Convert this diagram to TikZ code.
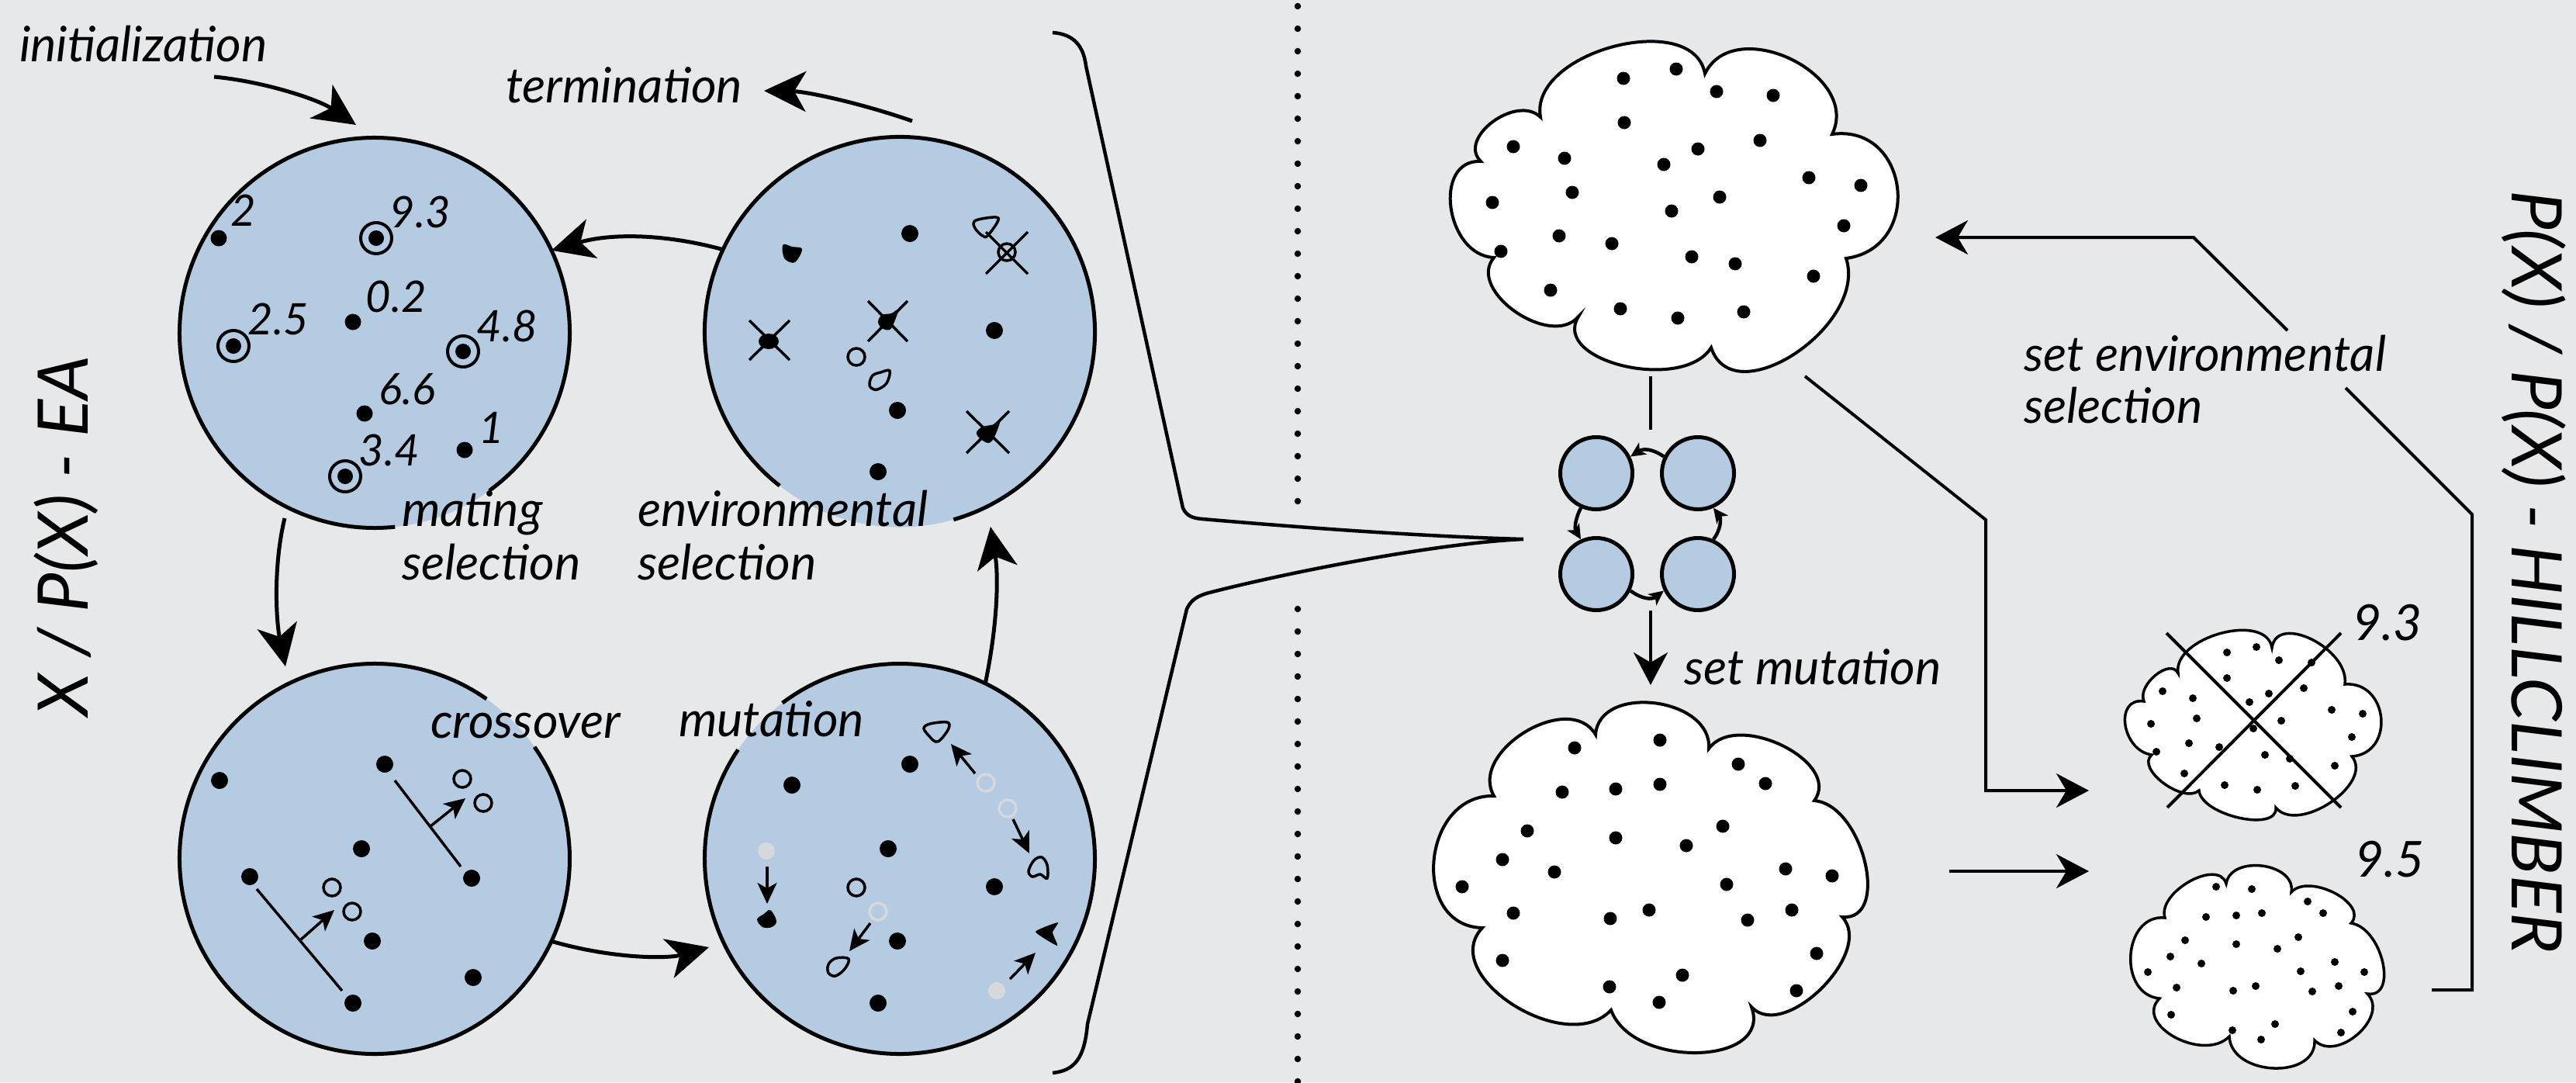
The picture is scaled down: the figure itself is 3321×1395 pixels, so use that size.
\documentclass[tikz,border=0pt]{standalone}
\usepackage{fontspec}
\setmainfont{Lato}
\usetikzlibrary{arrows.meta,calc}
\definecolor{bgc}{RGB}{231,232,234}
\definecolor{popc}{RGB}{180,203,226}
\definecolor{ghostc}{RGB}{214,216,219}
\newcommand\cb[3]{.. controls ($0.333*(#1)+1.333*(#2)-0.667*(#3)$) and ($0.333*(#3)+1.333*(#2)-0.667*(#1)$) .. (#3)}
\tikzset{
  pop/.style={circle, fill=popc, minimum size=503pt, inner sep=0pt, outer sep=0pt},
  ring/.style={line width=5pt},
  mini/.style={circle, fill=popc, draw=black, line width=5pt, minimum size=93pt, inner sep=0pt},
  bigarr/.style={line width=5pt, -{Stealth[length=54pt,width=52pt,inset=15pt]}},
  midarr/.style={line width=4pt, -{Stealth[length=42pt,width=44pt,inset=13pt]}},
  smallarr/.style={line width=3.5pt, -{Stealth[length=27pt,width=25pt,inset=7pt]}},
  miniarr/.style={line width=4.5pt, -{Stealth[length=19pt,width=18pt,inset=5pt]}},
  txt/.style={font=\fontsize{63}{69}\selectfont\itshape, inner sep=0pt, outer sep=0pt, anchor=base west},
  num/.style={font=\fontsize{56}{60}\selectfont\itshape, inner sep=0pt},
  cnum/.style={font=\fontsize{64}{68}\selectfont\itshape, inner sep=0pt},
  big/.style={font=\fontsize{90}{96}\selectfont\itshape, inner sep=0pt},
  thin/.style={line width=3.5pt},
  cloudbig/.style={fill=white, draw=black, line width=4pt},
  cloudsmall/.style={fill=white, draw=black, line width=3.5pt}
}
\begin{document}
\begin{tikzpicture}[x=1pt,y=-1pt]
\fill[bgc] (0,0) rectangle (3321,1395);
\useasboundingbox (0,0) rectangle (3321,1395);

% ---------- EA populations ----------
\node[pop] (tl) at (483,429) {};
\node[pop] (tr) at (1160,428) {};
\node[pop] (bl) at (483,1107) {};
\node[pop] (br) at (1160,1107) {};
\draw[ring] (tl.-54) arc[start angle=54,end angle=-276,radius=251.5];
\draw[ring] (tr.-74) arc[start angle=74,end angle=-232,radius=251.5];
\draw[ring] (bl.55) arc[start angle=-55,end angle=-395,radius=251.5];
\draw[ring] (br.146) arc[start angle=-146,end angle=-487,radius=251.5];

% TL contents
\foreach \p in {(282,307),(455,415),(470,533),(599,580)} \fill \p circle[radius=10.5];
\foreach \p in {(485,307),(301,446),(597,453),(445,614)} {\fill \p circle[radius=10]; \draw[line width=4pt] \p circle[radius=20];}
\node[num] (n2) at (314,271) {2};
\node[num] (n93) at (542,273) {9.3};
\node[num] (n02) at (511,382) {0.2};
\node[num] (n25) at (359,411) {2.5};
\node[num] (n48) at (654,420) {4.8};
\node[num] (n66) at (525,502) {6.6};
\node[num] (n34) at (502,580) {3.4};
\node[num] (n1) at (634,551) {1};

% TR contents
\foreach \p in {(1173,301),(1282,426),(1157,529),(1132,608)} \fill \p circle[radius=11];
\fill[shift={(1020,326)}] plot[smooth cycle, tension=0.6] coordinates {(-10,-11) (1,-8) (14,-5) (5,12) (-7,9) (-11,0)};
\draw[thin, shift={(1269,292)}] plot[smooth cycle, tension=0.6] coordinates {(-14,-4) (-8,-9) (15,-12) (17,-6) (4,12) (-2,12) (-10,5)};
\draw[thin] (1298,325) circle[radius=11];
\draw[thin] (1271,299) -- (1325,353); \draw[thin] (1325,299) -- (1271,353);
\fill (991,440) ellipse[x radius=13, y radius=10];
\draw[thin] (966,413) -- (1018,464); \draw[thin] (1018,413) -- (966,464);
\fill[shift={(1145,413)}] plot[smooth cycle, tension=0.6] coordinates {(-13,2) (-8,-7) (4,-9) (13,-14) (8,2) (2,12) (-8,10)};
\draw[thin] (1119,388) -- (1170,440); \draw[thin] (1170,388) -- (1119,440);
\fill[shift={(1273,557)}] plot[smooth cycle, tension=0.6] coordinates {(-14,0) (-6,-7) (8,-10) (17,-17) (10,4) (2,14) (-10,8)};
\draw[thin] (1246,530) -- (1301,584); \draw[thin] (1301,530) -- (1246,584);
\draw[thin] (1104,460) circle[radius=11];
\draw[thin, shift={(1133,490)}] plot[smooth cycle, tension=0.6] coordinates {(-12,4) (-8,-6) (2,-10) (14,-12) (10,4) (-2,12) (-10,10)};

% BL contents (crossover)
\foreach \p in {(283,1006),(496,985),(466,1094),(322,1130),(608,1132),(480,1213),(610,1260),(455,1293)} \fill \p circle[radius=11];
\draw[thin] (509,1006) -- (594,1117);
\draw[smallarr] (555,1065) -- (600,1029);
\draw[thin] (596,1004) circle[radius=11];
\draw[thin] (623,1035) circle[radius=11];
\draw[thin] (331,1146) -- (441,1277);
\draw[smallarr] (388,1211) -- (431,1173);
\draw[thin] (428,1144) circle[radius=11];
\draw[thin] (454,1175) circle[radius=11];

% BR contents (mutation)
\foreach \p in {(1021,1012),(1173,985),(1145,1094),(1282,1143),(1157,1213),(1132,1293)} \fill \p circle[radius=11];
\fill[ghostc] (988,1097) circle[radius=11];
\fill[ghostc] (1285,1277) circle[radius=11];
\draw[ghostc, thin] (1271,1009) circle[radius=11];
\draw[ghostc, thin] (1299,1042) circle[radius=11];
\draw[ghostc, thin] (1132,1175) circle[radius=11];
\draw[thin] (1104,1144) circle[radius=11];
\draw[thin, shift={(1207,943)}] plot[smooth cycle, tension=0.6] coordinates {(-16,-4) (-8,-10) (14,-12) (16,-4) (6,10) (-1,13) (-8,7)};
\draw[thin, shift={(1338,1119)}] plot[smooth cycle, tension=0.6] coordinates {(-12,4) (-5,-10) (5,-14) (12,-4) (12,13) (3,8) (-7,11)};
\draw[thin, shift={(1080,1246)}] plot[smooth cycle, tension=0.6] coordinates {(-12,8) (-12,-3) (-2,-11) (14,-10) (9,3) (-3,12)};
\fill[shift={(989,1185)}] plot[smooth cycle, tension=0.6] coordinates {(-13,0) (-4,-7) (4,-12) (12,2) (6,10) (-6,10)};
\fill[shift={(1352,1203)}] plot[smooth cycle, tension=0.3] coordinates {(-17,-2) (12,-14) (5,-1) (11,16)};
\draw[smallarr] (1257,997) -- (1226,959);
\draw[smallarr] (1306,1056) -- (1327,1100);
\draw[smallarr] (989,1117) -- (989,1165);
\draw[smallarr] (1122,1190) -- (1095,1226);
\draw[smallarr] (1302,1262) -- (1335,1228);

% labels
\node[txt] (init) at (25,79) {initialization};
\node[txt] (term) at (652,132) {termination};
\node[txt] (mat1) at (518,678) {mating};
\node[txt] (mat2) at (518,747) {selection};
\node[txt] (env1) at (822,678) {environmental};
\node[txt] (env2) at (822,747) {selection};
\node[txt] (cross) at (555,951) {crossover};
\node[txt] (mut) at (875,949) {mutation};
\node[big, rotate=90, anchor=base] (ea) at (113,691) {X / P(X) - EA};

% cycle arrows
\coordinate (i0) at (276,99); \coordinate (i1) at (459,161);
\draw[bigarr] (i0) .. controls (340,105) and (410,128) .. (i1);
\coordinate (t0) at (1176,156); \coordinate (t1) at (985,117);
\draw[bigarr] (t0) .. controls (1110,133) and (1040,118) .. (t1);
\draw[bigarr] (tr.155) .. controls (860,302) and (790,300) .. (tl.25);
\coordinate (a0) at (367,668); \coordinate (a1) at (368,859);
\draw[bigarr] (a0) .. controls (352,730) and (356,800) .. (a1);
\coordinate (b1) at (914,1221);
\draw[bigarr] (bl.-25) .. controls (790,1236) and (860,1236) .. (b1);
\coordinate (c1) at (1277,679);
\draw[bigarr] (br.64) .. controls (1287,800) and (1287,740) .. (c1);

% bracket and divider
\draw[line width=4.5pt] (1357,42) .. controls (1385,44) and (1397,60) .. (1400,85) -- (1525,655) .. controls (1530,665) and (1537,668) .. (1550,669) .. controls (1700,682) and (1850,692) .. (1964,695) .. controls (1850,700) and (1650,740) .. (1555,765) .. controls (1540,770) and (1535,775) .. (1530,785) -- (1402,1320) .. controls (1398,1365) and (1385,1380) .. (1357,1383);
\draw[line width=8.5pt, line cap=round, dash pattern=on 0pt off 29pt] (1673,8) -- (1673,650);
\draw[line width=8.5pt, line cap=round, dash pattern=on 0pt off 29pt] (1673,785) -- (1673,1395);

% ---------- Hillclimber ----------
\filldraw[cloudbig] (1909,208) \cb{1909,208}{1926,157}{1986,151} \cb{1986,151}{2082,60}{2198,95} \cb{2198,95}{2310,76}{2362,173} \cb{2362,173}{2448,243}{2380,333} \cb{2380,333}{2316,456}{2206,448} \cb{2206,448}{2095,472}{2035,408} \cb{2035,408}{1955,402}{1926,332} \cb{1926,332}{1872,268}{1909,208} -- cycle;
\foreach \p in {(2093,101),(2161,89),(2213,118),(2286,123),(2094,158),(1951,189),(2017,204),(2145,212),(2189,192),(2269,181),(2332,229),(2399,239),(1924,261),(2027,248),(2217,254),(2155,272),(2377,291),(2010,304),(2078,314),(1935,324),(2181,331),(2237,340),(2338,356),(1999,374),(2089,398),(2163,410),(2248,402)} \fill \p circle[radius=8.5];

\filldraw[cloudbig] (1926,1026) \cb{1926,1026}{1968,944}{2057,947} \cb{2057,947}{2135,907}{2203,965} \cb{2203,965}{2300,962}{2339,1032} \cb{2339,1032}{2406,1112}{2375,1182} \cb{2375,1182}{2350,1275}{2258,1298} \cb{2258,1298}{2190,1358}{2077,1302} \cb{2077,1302}{1952,1296}{1911,1196} \cb{1911,1196}{1850,1110}{1926,1026} -- cycle;
\foreach \p in {(2030,964),(2140,954),(2241,985),(2276,1010),(2014,1021),(2083,1017),(2140,1011),(1969,1071),(2083,1080),(2174,1090),(2221,1065),(1937,1108),(2004,1124),(1885,1143),(2226,1140),(2302,1120),(2362,1129),(1951,1177),(2076,1184),(2126,1173),(2253,1186),(2310,1173),(2342,1229),(1937,1238),(2169,1257),(2075,1272),(2139,1292),(2316,1277)} \fill \p circle[radius=8.5];

\filldraw[cloudsmall] (2764,904) \cb{2764,904}{2781,871}{2808,868} \cb{2808,868}{2865,817}{2929,835} \cb{2929,835}{2983,825}{3023,882} \cb{3023,882}{3072,926}{3032,975} \cb{3032,975}{3007,1035}{2934,1041} \cb{2934,1041}{2889,1055}{2835,1019} \cb{2835,1019}{2791,1010}{2774,973} \cb{2774,973}{2742,935}{2764,904} -- cycle;
\foreach \p in {(2871,841),(2909,834),(2938,851),(2980,854),(2871,874),(2788,891),(2827,900),(2925,894),(2970,887),(2900,905),(2832,926),(2773,933),(2941,929),(3006,915),(3046,920),(3032,950),(2905,939),(2822,958),(2861,963),(2780,969),(2920,973),(2952,978),(3010,987),(2816,997),(2868,1012),(2910,1018),(2959,1013)} \fill \p circle[radius=5];
\draw[line width=4pt] (2793,816) -- (3018,1041);
\draw[line width=4pt] (3018,816) -- (2794,1041);
\node[cnum] (v93) at (3078,803) {9.3};

\filldraw[cloudsmall] (2791,1183) \cb{2791,1183}{2825,1137}{2870,1139} \cb{2870,1139}{2919,1117}{2954,1150} \cb{2954,1150}{3012,1152}{3031,1190} \cb{3031,1190}{3074,1241}{3052,1281} \cb{3052,1281}{3042,1334}{2984,1341} \cb{2984,1341}{2933,1378}{2874,1336} \cb{2874,1336}{2806,1338}{2784,1287} \cb{2784,1287}{2749,1232}{2791,1183} -- cycle;
\foreach \p in {(2857,1143),(2903,1146),(2975,1162),(2995,1177),(2844,1182),(2883,1180),(2916,1177),(2817,1212),(2883,1217),(2963,1208),(2936,1223),(2798,1233),(2838,1242),(3010,1240),(2769,1253),(2966,1252),(3048,1253),(2806,1273),(2879,1277),(2908,1271),(2981,1278),(3015,1271),(2799,1308),(3033,1304),(2933,1320),(2878,1328),(2915,1340),(3018,1331)} \fill \p circle[radius=5];
\node[cnum] (v95) at (3081,1108) {9.5};

% mini EA cycle
\node[mini] (m1) at (2058,610) {};
\node[mini] (m2) at (2189,610) {};
\node[mini] (m3) at (2058,740) {};
\node[mini] (m4) at (2189,740) {};
\draw[miniarr] (m2.154) .. controls (2130,578) and (2118,578) .. (m1.26);
\draw[miniarr] (m1.246) .. controls (2030,670) and (2030,682) .. (m3.114);
\draw[miniarr] (m3.-26) .. controls (2118,773) and (2130,773) .. (m4.206);
\draw[miniarr] (m4.66) .. controls (2219,682) and (2219,668) .. (m2.-66);

% right-side connectors
\coordinate (c1b) at (2128,485); \coordinate (mtop) at (2128,554);
\draw[line width=4pt] (c1b) -- (mtop);
\coordinate (mbot) at (2128,787); \coordinate (c2t) at (2128,883);
\draw[midarr] (mbot) -- (c2t);
\coordinate (d0) at (2327,485); \coordinate (d1) at (2560,670); \coordinate (d2) at (2560,1019); \coordinate (c3l) at (2693,1019);
\draw[midarr] (d0) -- (d1) -- (d2) -- (c3l);
\coordinate (e0) at (2513,1123); \coordinate (c4l) at (2693,1123);
\draw[midarr] (e0) -- (c4l);
\coordinate (f0) at (3135,1276); \coordinate (f1) at (3187,1276); \coordinate (f2) at (3187,663); \coordinate (f3) at (3024,500);
\draw[line width=4pt] (f0) -- (f1) -- (f2) -- (f3);
\coordinate (g0) at (2949,426); \coordinate (g1) at (2828,306); \coordinate (c1r) at (2495,306);
\draw[midarr] (g0) -- (g1) -- (c1r);

\node[txt] (setmut) at (2171,882) {set mutation};
\node[txt] (setenv1) at (2609,478) {set environmental};
\node[txt] (setenv2) at (2609,545) {selection};
\node[big, rotate=-90, anchor=base] (hc) at (3238,737) {P(X) / P(X) - HILLCLIMBER};
\end{tikzpicture}
\end{document}
